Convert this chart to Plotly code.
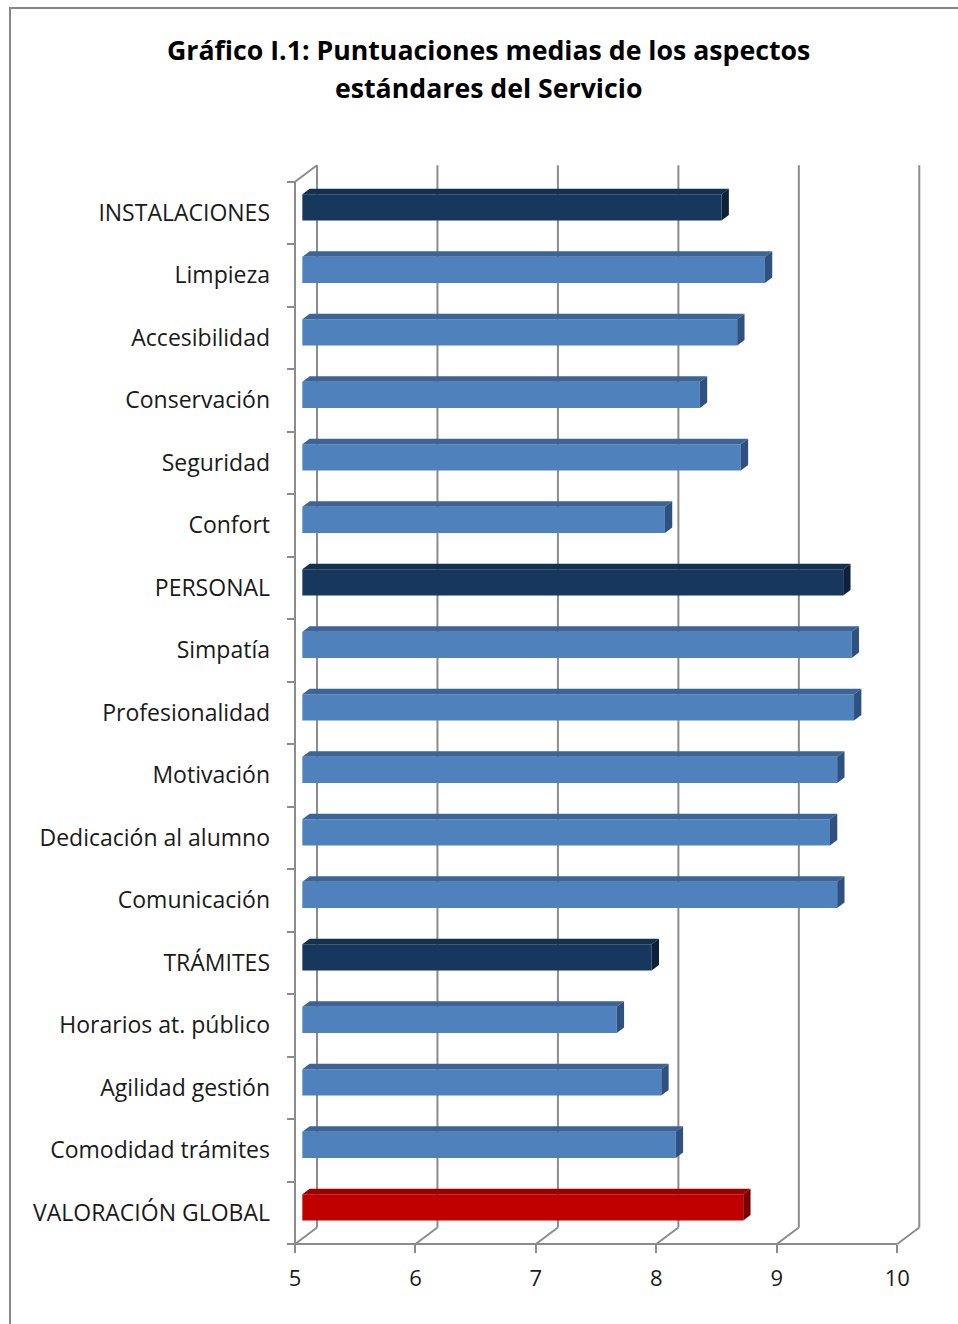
import plotly.graph_objects as go

# ---------------- data ----------------
categories = ["INSTALACIONES", "Limpieza", "Accesibilidad", "Conservación", "Seguridad", "Confort",
              "PERSONAL", "Simpatía", "Profesionalidad", "Motivación", "Dedicación al alumno",
              "Comunicación", "TRÁMITES", "Horarios at. público", "Agilidad gestión",
              "Comodidad trámites", "VALORACIÓN GLOBAL"]
values = [8.48, 8.84, 8.61, 8.30, 8.64, 8.01,
          9.49, 9.56, 9.58, 9.44, 9.38,
          9.44, 7.90, 7.61, 7.98,
          8.10, 8.66]
kinds = ["group", "item", "item", "item", "item", "item",
         "group", "item", "item", "item", "item",
         "item", "group", "item", "item",
         "item", "global"]
x_ticks = [5, 6, 7, 8, 9, 10]
title_lines = ["Gráfico I.1: Puntuaciones medias de los aspectos", "estándares del Servicio"]

# ---------------- styles ----------------
face_colors = {
    "item":   {"front": "#4F81BD", "top": "#3D6496", "side": "#2E5180"},
    "group":  {"front": "#17375E", "top": "#13304F", "side": "#0D2138"},
    "global": {"front": "#C00000", "top": "#990000", "side": "#780000"},
}
GRID = "#8C8C8C"
FONT = "Open Sans, Noto Sans, DejaVu Sans, sans-serif"

W, H = 958, 1324
PL, PR, PT, PB = 250, 945, 150, 1262
X0PX, XSCALE = 295.0, 120.46
Y0PX, YBAND = 181.7, 62.49
DEPTH_PX = (22.0, -16.5)
BAR_F1, BAR_F2 = 1 / 3, 2 / 3
BAR_H = 0.42

n = len(categories)
xmin_v, xmax_v = x_ticks[0], x_ticks[-1]

def v_of(px):
    return xmin_v + (px - X0PX) / XSCALE

def c_of(py):
    return (py - Y0PX) / YBAND - 0.5

DX = DEPTH_PX[0] / XSCALE
DY = DEPTH_PX[1] / YBAND
c_top, c_bot = -0.5, n - 0.5

fig = go.Figure()

grid_line = dict(color=GRID, width=2)
for v in x_ticks:
    fig.add_shape(type="line", xref="x", yref="y", x0=v + DX, x1=v + DX,
                  y0=c_top + DY, y1=c_bot + DY, line=grid_line, layer="below")
    fig.add_shape(type="line", xref="x", yref="y", x0=v + DX, x1=v,
                  y0=c_bot + DY, y1=c_bot, line=grid_line, layer="below")
fig.add_shape(type="line", xref="x", yref="y", x0=xmin_v, x1=xmin_v,
              y0=c_top, y1=c_bot, line=grid_line, layer="below")
fig.add_shape(type="line", xref="x", yref="y", x0=xmin_v, x1=xmin_v + DX,
              y0=c_top, y1=c_top + DY, line=grid_line, layer="below")
fig.add_shape(type="line", xref="x", yref="y", x0=xmin_v, x1=xmax_v,
              y0=c_bot, y1=c_bot, line=grid_line, layer="below")

f1x, f1y = DX * BAR_F1, DY * BAR_F1
f2x, f2y = DX * BAR_F2, DY * BAR_F2
for i, (cat, v, k) in enumerate(zip(categories, values, kinds)):
    col = face_colors[k]
    yc = i + f1y
    top_y, bot_y = yc - BAR_H / 2, yc + BAR_H / 2
    x_l, x_r = xmin_v + f1x, v + f1x
    ddx, ddy = f2x - f1x, f2y - f1y
    fig.add_trace(go.Scatter(
        x=[x_l, x_r, x_r + ddx, x_l + ddx, x_l],
        y=[top_y, top_y, top_y + ddy, top_y + ddy, top_y],
        mode="lines", fill="toself", fillcolor=col["top"], line=dict(width=0, color=col["top"]),
        hoverinfo="skip", showlegend=False))
    fig.add_trace(go.Scatter(
        x=[x_r, x_r + ddx, x_r + ddx, x_r, x_r],
        y=[top_y, top_y + ddy, bot_y + ddy, bot_y, top_y],
        mode="lines", fill="toself", fillcolor=col["side"], line=dict(width=0, color=col["side"]),
        hoverinfo="skip", showlegend=False))
    fig.add_trace(go.Bar(
        y=[yc], x=[v - xmin_v], base=[x_l], orientation="h", width=BAR_H,
        marker=dict(color=col["front"], line=dict(width=0)),
        hoverinfo="skip", showlegend=False))

plot_w = PR - PL
plot_h = PB - PT

fig.update_layout(
    width=W, height=H,
    margin=dict(l=PL, r=W - PR, t=PT, b=H - PB, pad=0),
    paper_bgcolor="white", plot_bgcolor="white",
    barmode="overlay",
    showlegend=False,
    xaxis=dict(
        range=[v_of(PL), v_of(PR)],
        anchor="free", position=(PB - (Y0PX + n * YBAND)) / plot_h,
        tickmode="array", tickvals=x_ticks, ticktext=[str(t) for t in x_ticks],
        ticks="outside", ticklen=8, tickwidth=2, tickcolor=GRID,
        showgrid=False, zeroline=False, showline=False,
        tickfont=dict(family=FONT, size=22, color="#1a1a1a"),
        ticklabelstandoff=7,
        fixedrange=True,
    ),
    yaxis=dict(
        range=[c_of(PB), c_of(PT)],
        anchor="free", position=(X0PX - PL) / plot_w,
        tickmode="array", tickvals=list(range(n)), ticktext=categories,
        ticks="", showgrid=False, zeroline=False, showline=False,
        tickfont=dict(family=FONT, size=23, color="#1a1a1a"),
        ticklabelstandoff=25,
        minor=dict(tickmode="array", tickvals=[i - 0.5 for i in range(n + 1)],
                   ticks="outside", ticklen=8, tickwidth=2, tickcolor=GRID, showgrid=False),
        fixedrange=True,
    ),
)

def px_to_paper_x(px):
    return (px - PL) / plot_w

def px_to_paper_y(py):
    return (PB - py) / plot_h

for txt, ypx in zip(title_lines, [50, 88]):
    fig.add_annotation(
        text="<b>" + txt + "</b>", xref="paper", yref="paper",
        x=px_to_paper_x(488), y=px_to_paper_y(ypx), xanchor="center", yanchor="middle",
        showarrow=False, font=dict(family=FONT, size=26.7, color="#000000"))

fig.add_shape(type="rect", xref="paper", yref="paper",
              x0=px_to_paper_x(10), x1=px_to_paper_x(975),
              y0=px_to_paper_y(1340), y1=px_to_paper_y(8),
              line=dict(color="#868686", width=2), fillcolor="rgba(0,0,0,0)", layer="below")

fig.write_html("out.html")
